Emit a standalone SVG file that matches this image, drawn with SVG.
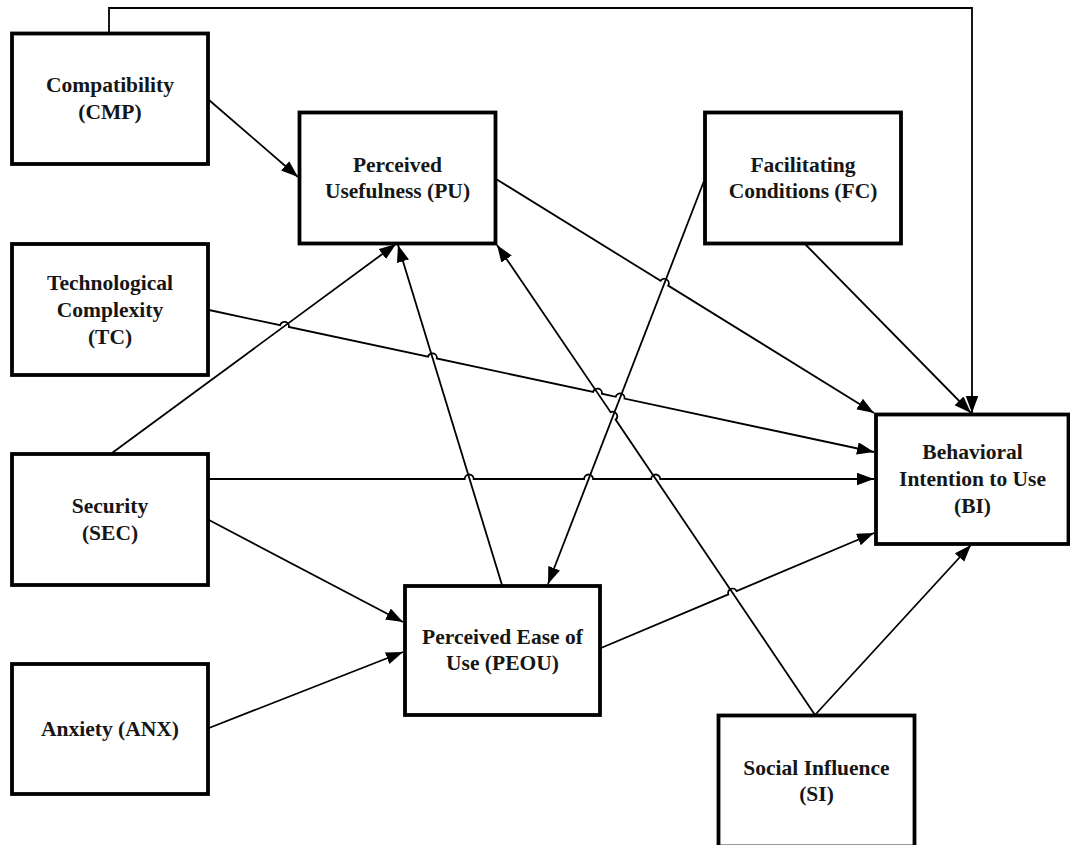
<svg xmlns="http://www.w3.org/2000/svg" width="1070" height="845" viewBox="0 0 1070 845">
<style>
.box{fill:#fff;stroke:#000;stroke-width:3.8}
.lbl{font-family:"Liberation Serif","Times New Roman",serif;font-weight:bold;font-size:21.5px;fill:#161616;text-anchor:middle}
.edge{fill:none;stroke:#000;stroke-width:1.8;marker-end:url(#arr)}
</style>
<defs>
<marker id="arr" markerUnits="userSpaceOnUse" markerWidth="19" markerHeight="14" refX="17" refY="6.25" orient="auto">
<path d="M0,0 L17,6.25 L0,12.5 Z" fill="#000"/>
</marker>
</defs>
<rect width="1070" height="845" fill="#fff"/>
<g id="connectors">
<path class="edge" d="M109,33 V8 H972 V413"/>
<path class="edge" d="M209,100 L298,177"/>
<path class="edge" d="M209,310 L280.1,325.2 A4.5,4.5 0 0 1 288.9,327 L428,356.7 A4.5,4.5 0 0 1 436.8,358.5 L593.1,391.9 A4.5,4.5 0 0 1 601.9,393.7 L615.7,396.8 A4.5,4.5 0 0 1 624.5,398.6 L874,452"/>
<path class="edge" d="M112,453 L396,244"/>
<path class="edge" d="M209,479 H464.7 A4.5,4.5 0 0 1 473.7,479 H584.1 A4.5,4.5 0 0 1 593.1,479 H651.2 A4.5,4.5 0 0 1 660.2,479 H874"/>
<path class="edge" d="M209,520 L403,622"/>
<path class="edge" d="M209,728 L403,652"/>
<path class="edge" d="M502,585 L398,245"/>
<path class="edge" d="M496,179 L660.6,280.8 A4.5,4.5 0 0 1 668.2,285.6 L874,413"/>
<path class="edge" d="M704,181 L548,584"/>
<path class="edge" d="M805,244 L971,413"/>
<path class="edge" d="M601,648 L728.3,594.4 A4.5,4.5 0 0 1 736.6,591 L874,533"/>
<path class="edge" d="M815,715 L615.6,419.6 A4.5,4.5 0 0 0 610.6,412.2 L497,245"/>
<path class="edge" d="M815,715 L971,545"/>
</g>
<g id="CMP">
<rect class="box" x="12" y="33.5" width="196" height="130.5"/>
<text class="lbl" x="110" y="92">Compatibility</text>
<text class="lbl" x="110" y="118.5">(CMP)</text>
</g>
<g id="TC">
<rect class="box" x="12" y="244" width="196" height="131"/>
<text class="lbl" x="110" y="289.5">Technological</text>
<text class="lbl" x="110" y="316.5">Complexity</text>
<text class="lbl" x="110" y="343.5">(TC)</text>
</g>
<g id="SEC">
<rect class="box" x="12" y="454" width="196" height="131"/>
<text class="lbl" x="110" y="513">Security</text>
<text class="lbl" x="110" y="539.5">(SEC)</text>
</g>
<g id="ANX">
<rect class="box" x="12" y="664" width="196" height="130"/>
<text class="lbl" x="110" y="736">Anxiety (ANX)</text>
</g>
<g id="PU">
<rect class="box" x="299.5" y="112.5" width="196" height="131"/>
<text class="lbl" x="397.5" y="171.5">Perceived</text>
<text class="lbl" x="397.5" y="198">Usefulness (PU)</text>
</g>
<g id="FC">
<rect class="box" x="705" y="112.5" width="196" height="131"/>
<text class="lbl" x="803" y="171.5">Facilitating</text>
<text class="lbl" x="803" y="198">Conditions (FC)</text>
</g>
<g id="BI">
<rect class="box" x="876" y="414.5" width="192.5" height="129.5"/>
<text class="lbl" x="972.5" y="459">Behavioral</text>
<text class="lbl" x="972.5" y="486">Intention to Use</text>
<text class="lbl" x="972.5" y="513">(BI)</text>
</g>
<g id="PEOU">
<rect class="box" x="405" y="586" width="195" height="129"/>
<text class="lbl" x="502.5" y="643.5">Perceived Ease of</text>
<text class="lbl" x="502.5" y="670">Use (PEOU)</text>
</g>
<g id="SI">
<rect class="box" x="718.5" y="715.5" width="196" height="131"/>
<text class="lbl" x="816.5" y="774.5">Social Influence</text>
<text class="lbl" x="816.5" y="801">(SI)</text>
</g>
</svg>
